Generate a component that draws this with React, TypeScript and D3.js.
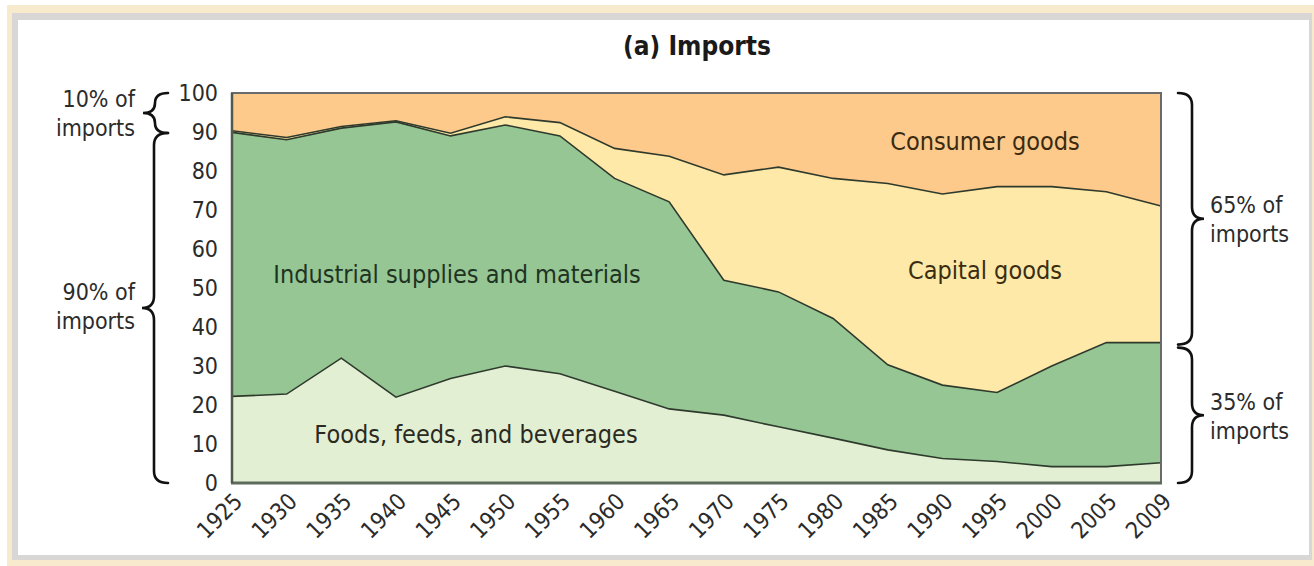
import React from "react";
import * as d3 from "d3";

const years = ["1925","1930","1935","1940","1945","1950","1955","1960","1965","1970","1975","1980","1985","1990","1995","2000","2005","2009"];
const foods =      [22.2, 22.8, 32.0, 22.0, 26.8, 30.0, 28.0, 23.5, 19.0, 17.4, 14.4, 11.5, 8.5, 6.3, 5.5, 4.2, 4.2, 5.2];
const industrial = [67.7, 65.2, 59.0, 70.6, 62.2, 61.8, 61.0, 54.6, 53.1, 34.6, 34.6, 30.7, 21.8, 18.8, 17.7, 25.8, 31.8, 30.8];
const capital =    [0.4, 0.6, 0.4, 0.3, 0.7, 2.1, 3.4, 7.7, 11.7, 27.0, 32.0, 35.9, 46.5, 49.0, 52.8, 46.0, 38.7, 35.0];
const consumer =   [9.7, 11.4, 8.6, 7.1, 10.3, 6.1, 7.6, 14.2, 16.2, 21.0, 19.0, 21.9, 23.2, 25.9, 24.0, 24.0, 25.3, 29.0];
const yTicks = [0, 10, 20, 30, 40, 50, 60, 70, 80, 90, 100];
const seriesKeys = ["foods", "industrial", "capital", "consumer"];
const seriesColors = ["#e3efd3", "#95c694", "#fee9a8", "#fdca8b"];

const FONT = "'Liberation Sans Narrow', 'DejaVu Sans Condensed', 'Open Sans', sans-serif";

const W = 1314, H = 566;
const plot = { left: 232, right: 1161, top: 93, bottom: 483 };

function brace(xEnd: number, xMid: number, xTip: number, y1: number, y2: number) {
  const ym = (y1 + y2) / 2;
  const r = Math.min(12, (y2 - y1) / 4);
  return `M${xEnd},${y1} Q${xMid},${y1} ${xMid},${y1 + r} L${xMid},${ym - r} Q${xMid},${ym} ${xTip},${ym} Q${xMid},${ym} ${xMid},${ym + r} L${xMid},${y2 - r} Q${xMid},${y2} ${xEnd},${y2}`;
}

export default function App() {
  React.useEffect(() => { document.body.style.margin = "0"; }, []);
  const x = d3.scalePoint<string>().domain(years).range([plot.left, plot.right]);
  const y = d3.scaleLinear().domain([0, 100]).range([plot.bottom, plot.top]);
  const rows = years.map((yr, i) => ({ year: yr, foods: foods[i], industrial: industrial[i], capital: capital[i], consumer: consumer[i] }));
  const stack = d3.stack<any>().keys(seriesKeys)(rows);
  const area = d3.area<any>().x((d) => x(d.data.year)!).y0((d) => y(d[0])).y1((d) => y(d[1]));
  const line = d3.line<any>().x((d) => x(d.data.year)!).y((d) => y(d[1]));

  const txt = "#2b2b2b";
  return (
    <div style={{ position: "absolute", left: 0, top: 0 }}>
      <svg width={W} height={H} style={{ display: "block" }} fontFamily={FONT}>
        <rect x={0} y={0} width={W} height={H} fill="#ffffff" />
        <rect x={7} y={5} width={W - 7} height={H - 5} fill="#f8ebcd" />
        <rect x={12} y={13} width={1302 - 2} height={547} fill="#d9d7d6" />
        <rect x={18} y={20} width={1291} height={535} fill="#ffffff" />

        <text x={697} y={55} textAnchor="middle" fontSize={26} fontWeight="bold" fill="#1a1a1a">(a) Imports</text>

        {stack.map((s, i) => (
          <path key={s.key} d={area(s as any)!} fill={seriesColors[i]} />
        ))}
        {stack.slice(0, 3).map((s) => (
          <path key={"l" + s.key} d={line(s as any)!} fill="none" stroke="#2e3a2c" strokeWidth={1.6} />
        ))}
        <rect x={plot.left} y={plot.top} width={plot.right - plot.left} height={plot.bottom - plot.top} fill="none" stroke="#6a6a6a" strokeWidth={2} />
        <line x1={plot.left - 1} x2={plot.right + 1} y1={plot.bottom} y2={plot.bottom} stroke="#5c6b5c" strokeWidth={3} />
        <line x1={plot.left} x2={plot.left} y1={plot.top} y2={plot.bottom} stroke="#4f5a4f" strokeWidth={2.5} />

        {yTicks.map((t) => (
          <text key={t} x={218} y={y(t)} dy="0.36em" textAnchor="end" fontSize={23} fill={txt}>{t}</text>
        ))}
        {years.map((yr) => (
          <text key={yr} transform={`translate(${x(yr)! + 6},${plot.bottom + 14}) rotate(-45)`} dy="0.36em" textAnchor="end" fontSize={23} fill={txt}>{yr}</text>
        ))}

        <text x={457} y={283} textAnchor="middle" fontSize={25} fill="#1f3322">Industrial supplies and materials</text>
        <text x={476} y={443} textAnchor="middle" fontSize={25} fill="#2a2a22">Foods, feeds, and beverages</text>
        <text x={985} y={150} textAnchor="middle" fontSize={25} fill="#3a2a12">Consumer goods</text>
        <text x={985} y={279} textAnchor="middle" fontSize={25} fill="#3a2d12">Capital goods</text>

        <g fill="none" stroke="#111" strokeWidth={2.6} strokeLinecap="round">
          <path d={brace(168, 155, 143, y(100), y(90) + 1)} />
          <path d={brace(168, 154, 142, y(90) + 1, y(0))} />
          <path d={brace(1178, 1192, 1204, y(100), y(36) + 2)} />
          <path d={brace(1178, 1192, 1204, y(36) + 5, y(0))} />
        </g>
        <g fontSize={23} fill={txt}>
          <text x={135} y={107} textAnchor="end">10% of</text>
          <text x={135} y={136} textAnchor="end">imports</text>
          <text x={135} y={300} textAnchor="end">90% of</text>
          <text x={135} y={329} textAnchor="end">imports</text>
          <text x={1210} y={213}>65% of</text>
          <text x={1210} y={242}>imports</text>
          <text x={1210} y={410}>35% of</text>
          <text x={1210} y={439}>imports</text>
        </g>
      </svg>
    </div>
  );
}
